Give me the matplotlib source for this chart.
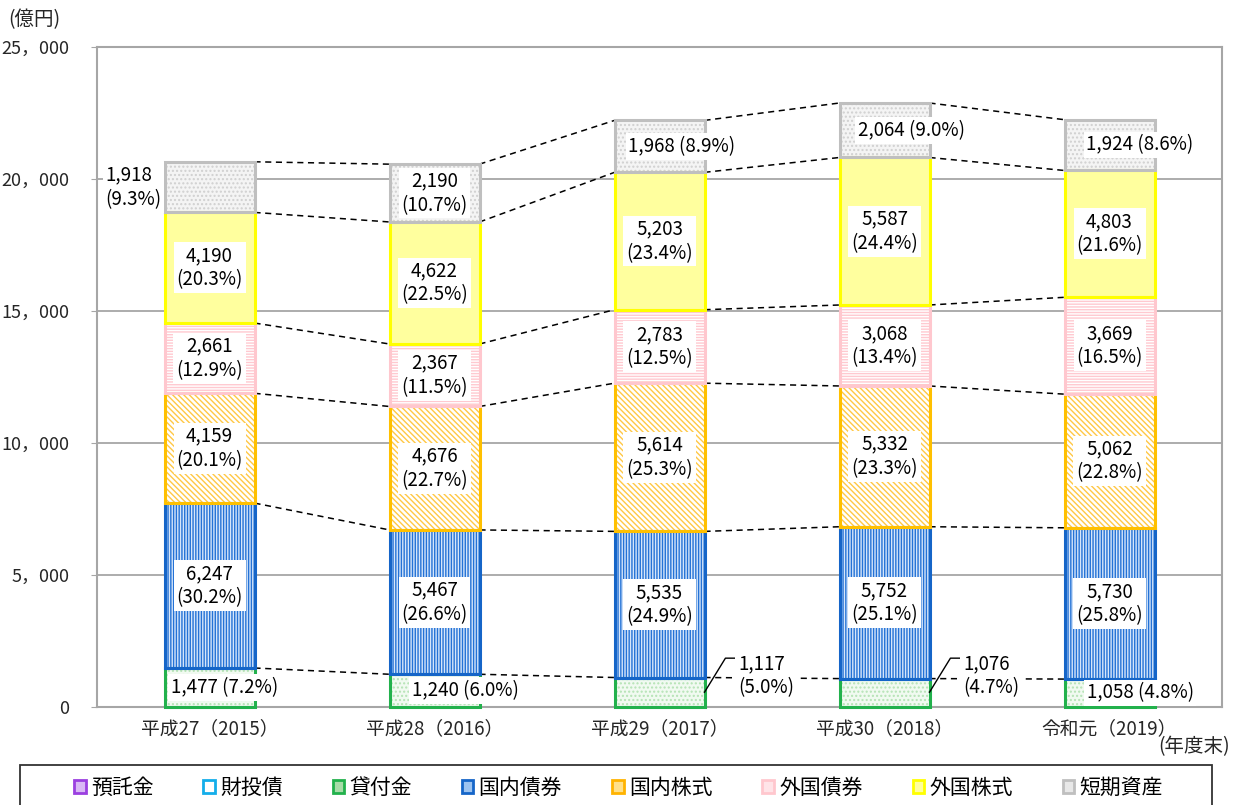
import numpy as np
import matplotlib.pyplot as plt
from matplotlib.patches import Patch, Rectangle

plt.rcParams['font.family'] = ['Noto Sans CJK JP', 'DejaVu Sans']
plt.rcParams['hatch.linewidth'] = 1.0

# 年度末の資産構成（億円）
years = ['平成27（2015）', '平成28（2016）', '平成29（2017）', '平成30（2018）', '令和元（2019）']
series = ['貸付金', '国内債券', '国内株式', '外国債券', '外国株式', '短期資産']
legend_names = ['預託金', '財投債'] + series

loans = [1477, 1240, 1117, 1076, 1058]
dom_bonds = [6247, 5467, 5535, 5752, 5730]
dom_stocks = [4159, 4676, 5614, 5332, 5062]
for_bonds = [2661, 2367, 2783, 3068, 3669]
for_stocks = [4190, 4622, 5203, 5587, 4803]
short_term = [1918, 2190, 1968, 2064, 1924]

loans_pct = [7.2, 6.0, 5.0, 4.7, 4.8]
dom_bonds_pct = [30.2, 26.6, 24.9, 25.1, 25.8]
dom_stocks_pct = [20.1, 22.7, 25.3, 23.3, 22.8]
for_bonds_pct = [12.9, 11.5, 12.5, 13.4, 16.5]
for_stocks_pct = [20.3, 22.5, 23.4, 24.4, 21.6]
short_term_pct = [9.3, 10.7, 8.9, 9.0, 8.6]

values = [loans, dom_bonds, dom_stocks, for_bonds, for_stocks, short_term]
pcts = [loans_pct, dom_bonds_pct, dom_stocks_pct, for_bonds_pct, for_stocks_pct, short_term_pct]

# face, hatch, hatch colour, outline colour
styles = [
    ('#F1FAF1', '....', '#B5E3B5', '#22B14C'),
    ('#D6E6FA', '||||||', '#2472D6', '#1565C8'),
    ('white', '\\\\\\\\\\\\', '#FFC845', '#FFC000'),
    ('white', '------', '#FFC9D0', '#FFC7CE'),
    ('#FFFF9E', None, '#FFFF9E', '#FFFF00'),
    ('#F4F4F4', '....', '#D0D0D0', '#BFBFBF'),
]
legend_styles = [
    ('#D9B8F5', '#9B3FE0'),
    ('white', '#14AEEA'),
    ('#A8DCA8', '#22B14C'),
    ('#9CC3F0', '#1565C8'),
    ('#FFE08A', '#FFB300'),
    ('#FFE4E8', '#FFC7CE'),
    ('#FFFF9E', '#FFFF00'),
    ('#E8E8E8', '#BFBFBF'),
]

fig = plt.figure(figsize=(12.35, 8.05), dpi=100)
ax = fig.add_axes([97 / 1235, 98 / 805, 1125 / 1235, 660 / 805])

x = np.arange(len(years))
w = 0.4
bottom = np.zeros(len(years))
tops = []
mids = []
for vals, (face, hatch, hcol, ecol) in zip(values, styles):
    vals = np.array(vals)
    ax.bar(x, vals, w, bottom=bottom, color=face, hatch=hatch, edgecolor=hcol,
           linewidth=0, zorder=2)
    ax.bar(x, vals, w, bottom=bottom, color='none', edgecolor=ecol,
           linewidth=2.2, zorder=3, clip_on=False)
    mids.append(bottom + vals / 2)
    bottom = bottom + vals
    tops.append(bottom.copy())

# dashed connectors between stack boundaries
for lvl in tops:
    for i in range(len(years) - 1):
        ax.plot([x[i] + w / 2, x[i + 1] - w / 2], [lvl[i], lvl[i + 1]],
                ls=(0, (4, 3)), color='black', lw=1.1, zorder=1.5)

box = dict(boxstyle='square,pad=0.15', fc='white', ec='none')
one_line = {(0, 0): 0.067, (0, 1): 0.136, (0, 4): 0.136,
            (5, 2): 0.10, (5, 3): 0.12, (5, 4): 0.136}
leader = {(0, 2), (0, 3)}
left = {(5, 0)}

for s, (vals, ps) in enumerate(zip(values, pcts)):
    for i in range(len(years)):
        v, p = vals[i], ps[i]
        if (s, i) in one_line:
            ax.text(x[i] + one_line[(s, i)], mids[s][i], f'{v:,} ({p:.1f}%)',
                    ha='center', va='center', fontsize=13.5, bbox=box, zorder=5)
        elif (s, i) in leader:
            xr = x[i] + w / 2
            ax.plot([xr, xr + 0.093, xr + 0.138], [560, 1850, 1850],
                    color='black', lw=1.0, zorder=4)
            ax.text(xr + 0.15, 1175, f'{v:,}\n({p:.1f}%)', ha='left',
                    va='center', fontsize=13.5, bbox=box, zorder=5)
        elif (s, i) in left:
            ax.text(x[i] - 0.462, mids[s][i], f'{v:,}\n({p:.1f}%)', ha='left',
                    va='center', fontsize=13.5, bbox=box, zorder=5)
        else:
            ax.text(x[i], mids[s][i], f'{v:,}\n({p:.1f}%)', ha='center',
                    va='center', fontsize=13.5, bbox=box, zorder=5)

ax.set_xlim(-0.5, 4.5)
ax.set_ylim(0, 25000)
ax.set_xticks(x)
ax.set_xticklabels(years)
yt = np.arange(0, 25001, 5000)
ax.set_yticks(yt)
ax.set_yticklabels([f'{v:,}'.replace(',', '，') for v in yt])
ax.yaxis.grid(True, color='#A6A6A6', lw=1.3)
ax.set_axisbelow(True)
for sp in ax.spines.values():
    sp.set_color('#A6A6A6')
    sp.set_linewidth(1.5)
ax.tick_params(axis='y', length=4, color='#A6A6A6', pad=16, labelsize=13,
               labelcolor='#262626')
ax.tick_params(axis='x', length=0, pad=8, labelsize=13.5, labelcolor='#262626')

fig.text(8 / 1235, 1 - 20 / 805, '(億円)', fontsize=14, va='center', ha='left',
         color='#262626')
fig.text(1230 / 1235, 1 - 747 / 805, '(年度末)', fontsize=14, va='center',
         ha='right', color='#262626')

# legend in a box along the bottom edge
fig.patches.append(Rectangle((20 / 1235, -0.01), 1192 / 1235, 40 / 805 + 0.01,
                             transform=fig.transFigure, fc='white',
                             ec='#333333', lw=1.3))
handles = [Patch(facecolor=f, edgecolor=e, linewidth=2) for f, e in legend_styles]
fig.legend(handles, legend_names, ncol=8, loc='center', frameon=False,
           bbox_to_anchor=(0.5008, 17 / 805), fontsize=15, handlelength=0.55,
           handleheight=0.55, handletextpad=0.25, columnspacing=2.4)

fig.savefig('out.png', dpi=100)
